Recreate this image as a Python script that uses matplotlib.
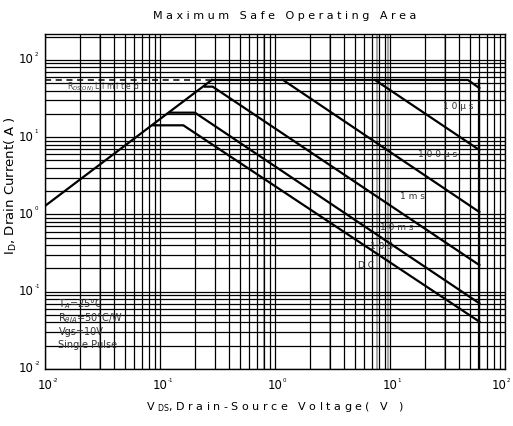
import matplotlib
matplotlib.use('Agg')
import matplotlib.pyplot as plt
from matplotlib.ticker import LogLocator, NullFormatter

plt.rcParams['font.family'] = ['DejaVu Sans']

# SOA curves (V in volts, I in amps)
rds_v = [0.01, 0.2816]
rds_i = [1.285, 54.8]
lim_v = [0.01, 0.27]
lim_i = [54.8, 54.8]
top_v = [0.2816, 47.6, 59.8]
top_i = [54.8, 54.8, 43.1]
us10_v = [7.41, 59.8]
us10_i = [54.8, 6.81]
us100_v = [1.174, 59.8]
us100_i = [54.8, 1.074]
ms1_v = [0.246, 0.287, 59.8]
ms1_i = [44.9, 44.9, 0.221]
ms10_v = [0.122, 0.2014, 59.8]
ms10_i = [20.7, 20.7, 0.0708]
s10_v = [0.0875, 0.1596, 59.8]
s10_i = [14.2, 14.2, 0.041]
bv_v = [59.8, 59.8]
bv_i = [54.8, 0.01]

curve_labels = ['10μs', '100μs', '1ms', '10ms', '10S', 'DC']
label_v = [39.0, 26.1, 15.7, 11.5, 8.36, 6.18]
label_i = [25.2, 6.04, 1.69, 0.667, 0.39, 0.221]

cond_text = ['T$_A$=25°C', 'R$_{θJA}$=50°C/W', 'Vgs=10V', 'Single Pulse']
cond_i = [0.0693, 0.044, 0.0304, 0.0204]

x_exp = [-2, -1, 0, 1, 2]
y_exp = [-2, -1, 0, 1, 2]


def spaced(s):
    return ' '.join(s)


fig = plt.figure(figsize=(5.13, 4.26), dpi=100)
ax = fig.add_axes([45 / 513, 57 / 426, 460 / 513, 335.5 / 426])
ax.set_xscale('log')
ax.set_yscale('log')
ax.set_xlim(0.01, 100)
ax.set_ylim(0.01, 10 ** 2.34)

ax.xaxis.set_minor_locator(LogLocator(base=10, subs=range(2, 10), numticks=30))
ax.yaxis.set_minor_locator(LogLocator(base=10, subs=range(2, 10), numticks=30))
ax.xaxis.set_minor_formatter(NullFormatter())
ax.yaxis.set_minor_formatter(NullFormatter())
ax.tick_params(which='both', length=0, labelbottom=False, labelleft=False)
ax.grid(which='both', color='black', lw=0.9)
for gv in [0.03, 0.8, 3, 7.7, 9.7, 30]:
    ax.axvline(gv, color='#999999', lw=1.2, zorder=1)
for sp in ax.spines.values():
    sp.set_linewidth(1.0)

lw = 1.6
ax.plot(rds_v, rds_i, color='black', lw=lw)
ax.plot(lim_v, lim_i, color='black', lw=1.1, ls=(0, (4, 3)))
ax.plot(top_v, top_i, color='black', lw=lw)
ax.plot(us10_v, us10_i, color='black', lw=lw)
ax.plot(us100_v, us100_i, color='black', lw=lw)
ax.plot(ms1_v, ms1_i, color='black', lw=lw)
ax.plot(ms10_v, ms10_i, color='black', lw=lw)
ax.plot(s10_v, s10_i, color='black', lw=lw)
ax.plot(bv_v, bv_i, color='black', lw=lw)

for t, v, i in zip(curve_labels, label_v, label_i):
    ax.text(v, i, spaced(t), fontsize=6.5, color='#333333', ha='center', va='center')

ax.text(0.0154, 44.9, spaced('R') + '$_{DS(ON)}$' + ' ' + spaced('Limited'),
        fontsize=5.5, color='#444444', ha='left', va='center')

for t, i in zip(cond_text, cond_i):
    ax.text(0.0131, i, t, fontsize=7, color='#333333', ha='left', va='center')

# tick labels: big "10" with tiny exponent
for e in x_exp:
    dx = -4 if e == 2 else 0
    ax.annotate('10', xy=(10.0 ** e, 0), xycoords=('data', 'axes fraction'),
                xytext=(dx, -12), textcoords='offset points', ha='center', va='center',
                fontsize=8.5)
    ax.annotate(str(e), xy=(10.0 ** e, 0), xycoords=('data', 'axes fraction'),
                xytext=(dx + 5.5, -8), textcoords='offset points', ha='left', va='center',
                fontsize=4)
for e in y_exp:
    ax.annotate('10', xy=(0, 10.0 ** e), xycoords=('axes fraction', 'data'),
                xytext=(-8, 0), textcoords='offset points', ha='right', va='center',
                fontsize=8.5)
    ax.annotate(str(e), xy=(0, 10.0 ** e), xycoords=('axes fraction', 'data'),
                xytext=(-7.5, 4), textcoords='offset points', ha='left', va='center',
                fontsize=4)

fig.text(285 / 513, 1 - 16 / 426, spaced('Maximum Safe Operating Area'),
         fontsize=8, ha='center', va='center')
fig.text(275 / 513, 1 - 407 / 426,
         'V $\\mathregular{_{DS}}$, ' + spaced('Drain-Source Voltage( V )'),
         fontsize=8, ha='center', va='center')
fig.text(11 / 513, 1 - 186 / 426, 'I$\\mathregular{_D}$, Drain Current( A )',
         fontsize=9.5, ha='center', va='center', rotation=90)

fig.savefig('out.png', dpi=100)
